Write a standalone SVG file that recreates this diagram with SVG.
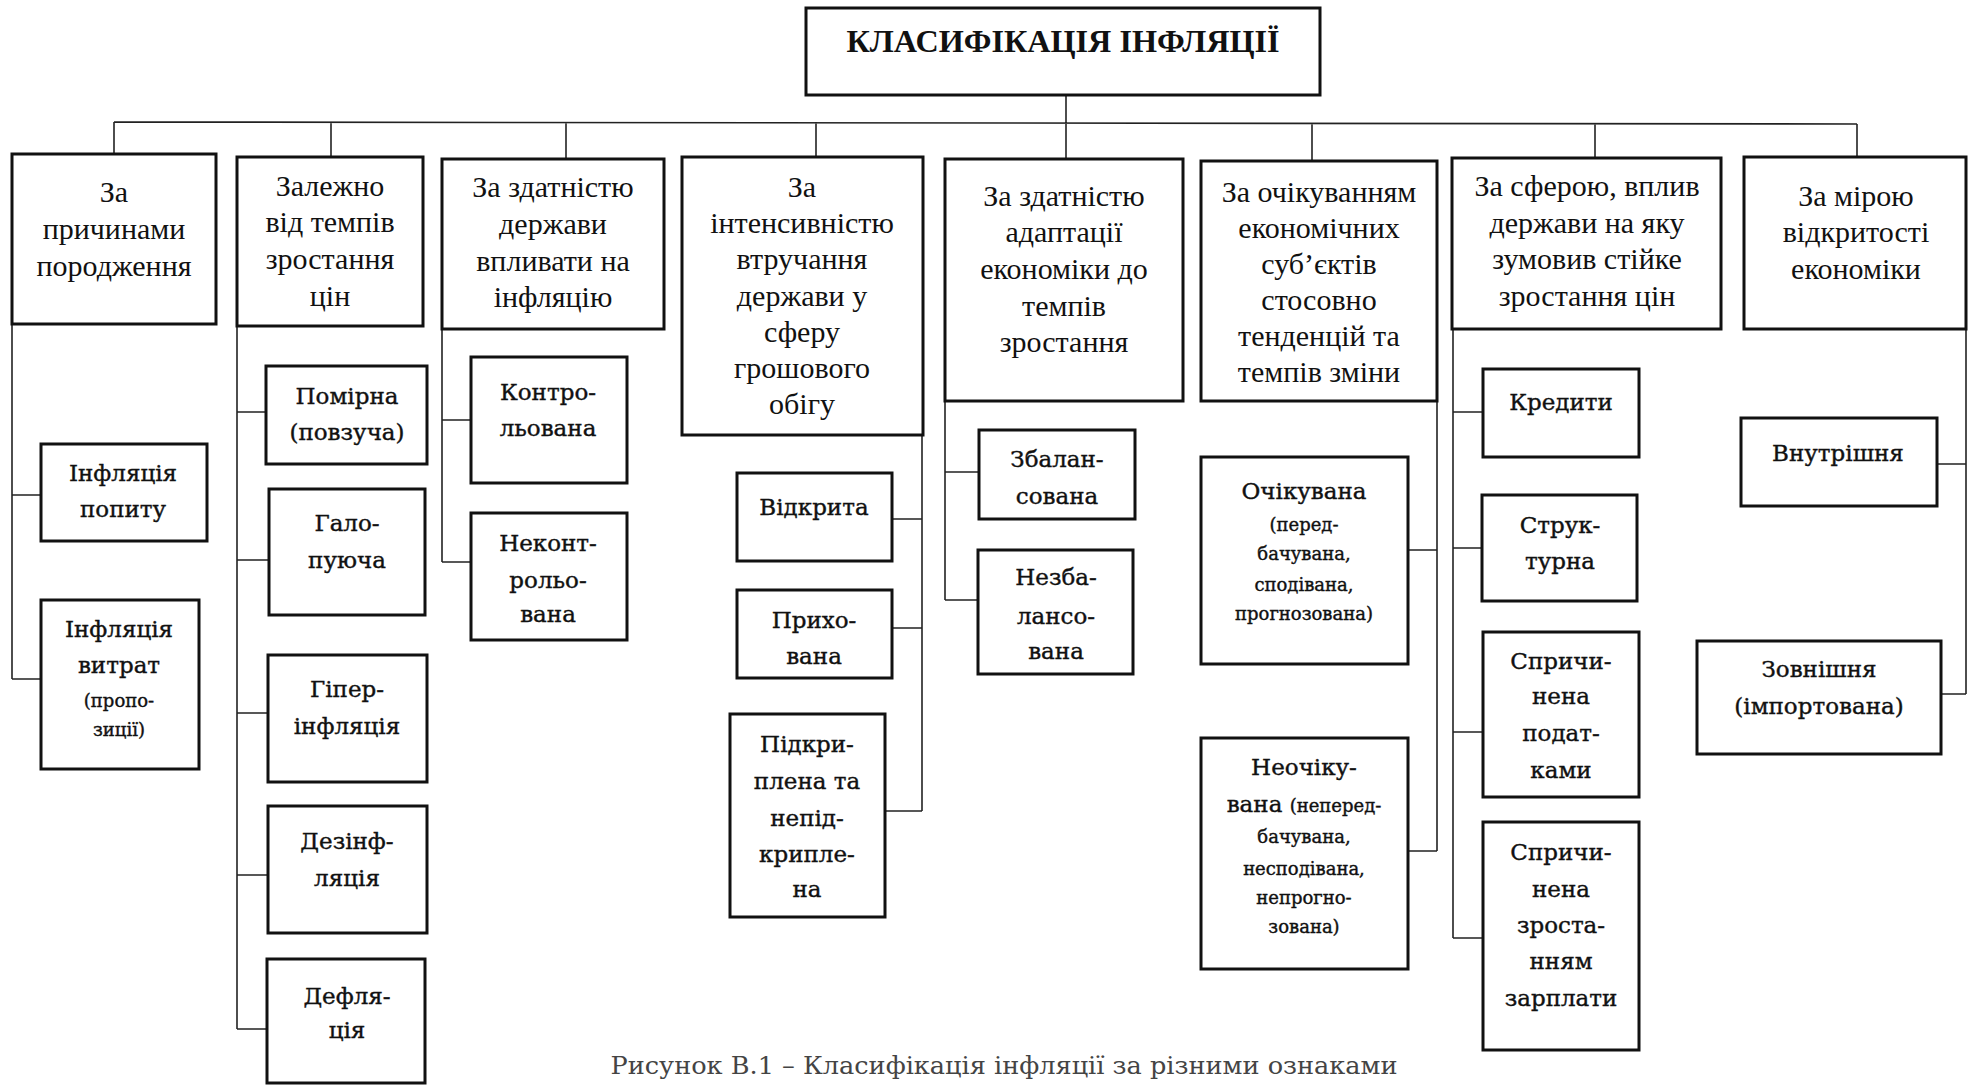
<svg xmlns="http://www.w3.org/2000/svg" width="1971" height="1085" viewBox="0 0 1971 1085">
<style>
.b{fill:#fff;stroke:#111;stroke-width:3}
.c{fill:none;stroke:#222;stroke-width:1.6}
.h{font-family:"Liberation Serif","Times New Roman",serif;font-size:30px;fill:#111;text-anchor:middle}
.t{font-family:"DejaVu Serif","Liberation Serif",serif;font-size:23px;fill:#111;stroke:#111;stroke-width:0.4;text-anchor:middle}
.s{font-size:18px}
.cap{font-family:"DejaVu Serif","Liberation Serif",serif;font-size:25px;fill:#444;text-anchor:middle}
</style>
<rect width="1971" height="1085" fill="#fff"/>
<g id="connectors">
<path class="c" d="M1066,95V122M114,122L1857,124M114,122V154M331,122V157M566,122V159M816,122V157M1066,122V159M1312,123V161M1595,124V158M1857,124V157"/>
<path class="c" d="M12,324V679M12,495H41M12,679H41"/>
<path class="c" d="M237,326V1029M237,412H266M237,560H269M237,713H268M237,875H268M237,1029H267"/>
<path class="c" d="M442,329V562M442,420H471M442,562H471"/>
<path class="c" d="M922,435V811M892,519H922M892,628H922M885,811H922"/>
<path class="c" d="M945,401V600M945,472H979M945,600H978"/>
<path class="c" d="M1437,401V851M1408,550H1437M1408,851H1437"/>
<path class="c" d="M1453,329V938M1453,412H1483M1453,548H1482M1453,732H1483M1453,938H1483"/>
<path class="c" d="M1966,329V694M1937,464H1966M1941,694H1966"/>
</g>
<g id="title"><rect class="b" x="806" y="8" width="514" height="87"/><text x="1063" y="52" font-family="Liberation Serif,serif" font-weight="bold" font-size="32" text-anchor="middle" fill="#111" textLength="433" lengthAdjust="spacingAndGlyphs">КЛАСИФІКАЦІЯ ІНФЛЯЦІЇ</text></g>
<g id="h1"><rect class="b" x="12" y="154" width="204" height="170"/><text class="h"><tspan x="114" y="202">За</tspan><tspan x="114" y="239">причинами</tspan><tspan x="114" y="276">породження</tspan></text></g>
<g id="h2"><rect class="b" x="237" y="157" width="186" height="169"/><text class="h"><tspan x="330" y="196">Залежно</tspan><tspan x="330" y="232">від темпів</tspan><tspan x="330" y="269">зростання</tspan><tspan x="330" y="306">цін</tspan></text></g>
<g id="h3"><rect class="b" x="442" y="159" width="222" height="170"/><text class="h"><tspan x="553" y="197">За здатністю</tspan><tspan x="553" y="234">держави</tspan><tspan x="553" y="271">впливати на</tspan><tspan x="553" y="307">інфляцію</tspan></text></g>
<g id="h4"><rect class="b" x="682" y="157" width="241" height="278"/><text class="h"><tspan x="802" y="197">За</tspan><tspan x="802" y="233">інтенсивністю</tspan><tspan x="802" y="269">втручання</tspan><tspan x="802" y="306">держави у</tspan><tspan x="802" y="342">сферу</tspan><tspan x="802" y="378">грошового</tspan><tspan x="802" y="414">обігу</tspan></text></g>
<g id="h5"><rect class="b" x="945" y="159" width="238" height="242"/><text class="h"><tspan x="1064" y="206">За здатністю</tspan><tspan x="1064" y="242">адаптації</tspan><tspan x="1064" y="279">економіки до</tspan><tspan x="1064" y="316">темпів</tspan><tspan x="1064" y="352">зростання</tspan></text></g>
<g id="h6"><rect class="b" x="1201" y="161" width="236" height="240"/><text class="h"><tspan x="1319" y="202">За очікуванням</tspan><tspan x="1319" y="238">економічних</tspan><tspan x="1319" y="274">суб’єктів</tspan><tspan x="1319" y="310">стосовно</tspan><tspan x="1319" y="346">тенденцій та</tspan><tspan x="1319" y="382">темпів зміни</tspan></text></g>
<g id="h7"><rect class="b" x="1452" y="158" width="269" height="171"/><text class="h"><tspan x="1587" y="196">За сферою, вплив</tspan><tspan x="1587" y="233">держави на яку</tspan><tspan x="1587" y="269">зумовив стійке</tspan><tspan x="1587" y="306">зростання цін</tspan></text></g>
<g id="h8"><rect class="b" x="1744" y="157" width="222" height="172"/><text class="h"><tspan x="1856" y="206">За мірою</tspan><tspan x="1856" y="242">відкритості</tspan><tspan x="1856" y="279">економіки</tspan></text></g>
<g id="n1a"><rect class="b" x="41" y="444" width="166" height="97"/><text class="t"><tspan x="123" y="481">Інфляція</tspan><tspan x="123" y="517">попиту</tspan></text></g>
<g id="n1b"><rect class="b" x="41" y="600" width="158" height="169"/><text class="t"><tspan x="119" y="637">Інфляція</tspan><tspan x="119" y="673">витрат</tspan><tspan class="s" x="119" y="707">(пропо-</tspan><tspan class="s" x="119" y="736">зиції)</tspan></text></g>
<g id="n2a"><rect class="b" x="266" y="366" width="161" height="98"/><text class="t"><tspan x="347" y="404">Помірна</tspan><tspan x="347" y="440">(повзуча)</tspan></text></g>
<g id="n2b"><rect class="b" x="269" y="489" width="156" height="126"/><text class="t"><tspan x="347" y="531">Гало-</tspan><tspan x="347" y="568">пуюча</tspan></text></g>
<g id="n2c"><rect class="b" x="268" y="655" width="159" height="127"/><text class="t"><tspan x="347" y="697">Гіпер-</tspan><tspan x="347" y="734">інфляція</tspan></text></g>
<g id="n2d"><rect class="b" x="268" y="806" width="159" height="127"/><text class="t"><tspan x="347" y="849">Дезінф-</tspan><tspan x="347" y="886">ляція</tspan></text></g>
<g id="n2e"><rect class="b" x="267" y="959" width="158" height="124"/><text class="t"><tspan x="347" y="1004">Дефля-</tspan><tspan x="347" y="1038">ція</tspan></text></g>
<g id="n3a"><rect class="b" x="471" y="357" width="156" height="126"/><text class="t"><tspan x="548" y="400">Контро-</tspan><tspan x="548" y="436">льована</tspan></text></g>
<g id="n3b"><rect class="b" x="471" y="513" width="156" height="127"/><text class="t"><tspan x="548" y="551">Неконт-</tspan><tspan x="548" y="588">рольо-</tspan><tspan x="548" y="622">вана</tspan></text></g>
<g id="n4a"><rect class="b" x="737" y="473" width="155" height="88"/><text class="t" x="814" y="515">Відкрита</text></g>
<g id="n4b"><rect class="b" x="737" y="590" width="155" height="88"/><text class="t"><tspan x="814" y="628">Прихо-</tspan><tspan x="814" y="664">вана</tspan></text></g>
<g id="n4c"><rect class="b" x="730" y="714" width="155" height="203"/><text class="t"><tspan x="807" y="752">Підкри-</tspan><tspan x="807" y="789">плена та</tspan><tspan x="807" y="826">непід-</tspan><tspan x="807" y="862">крипле-</tspan><tspan x="807" y="897">на</tspan></text></g>
<g id="n5a"><rect class="b" x="979" y="430" width="156" height="89"/><text class="t"><tspan x="1057" y="467">Збалан-</tspan><tspan x="1057" y="504">сована</tspan></text></g>
<g id="n5b"><rect class="b" x="978" y="550" width="155" height="124"/><text class="t"><tspan x="1056" y="585">Незба-</tspan><tspan x="1056" y="624">лансо-</tspan><tspan x="1056" y="659">вана</tspan></text></g>
<g id="n6a"><rect class="b" x="1201" y="457" width="207" height="207"/><text class="t"><tspan x="1304" y="499">Очікувана</tspan><tspan class="s" x="1304" y="531">(перед-</tspan><tspan class="s" x="1304" y="560">бачувана,</tspan><tspan class="s" x="1304" y="591">сподівана,</tspan><tspan class="s" x="1304" y="620">прогнозована)</tspan></text></g>
<g id="n6b"><rect class="b" x="1201" y="738" width="207" height="231"/><text class="t"><tspan x="1304" y="775">Неочіку-</tspan><tspan x="1304" y="812">вана <tspan class="s">(неперед-</tspan></tspan><tspan class="s" x="1304" y="843">бачувана,</tspan><tspan class="s" x="1304" y="875">несподівана,</tspan><tspan class="s" x="1304" y="904">непрогно-</tspan><tspan class="s" x="1304" y="933">зована)</tspan></text></g>
<g id="n7a"><rect class="b" x="1483" y="369" width="156" height="88"/><text class="t" x="1561" y="410">Кредити</text></g>
<g id="n7b"><rect class="b" x="1482" y="495" width="155" height="106"/><text class="t"><tspan x="1560" y="533">Струк-</tspan><tspan x="1560" y="569">турна</tspan></text></g>
<g id="n7c"><rect class="b" x="1483" y="632" width="156" height="165"/><text class="t"><tspan x="1561" y="669">Спричи-</tspan><tspan x="1561" y="704">нена</tspan><tspan x="1561" y="741">подат-</tspan><tspan x="1561" y="778">ками</tspan></text></g>
<g id="n7d"><rect class="b" x="1483" y="822" width="156" height="228"/><text class="t"><tspan x="1561" y="860">Спричи-</tspan><tspan x="1561" y="897">нена</tspan><tspan x="1561" y="933">зроста-</tspan><tspan x="1561" y="969">нням</tspan><tspan x="1561" y="1006">зарплати</tspan></text></g>
<g id="n8a"><rect class="b" x="1741" y="418" width="196" height="88"/><text class="t" x="1838" y="461">Внутрішня</text></g>
<g id="n8b"><rect class="b" x="1697" y="641" width="244" height="113"/><text class="t"><tspan x="1819" y="677">Зовнішня</tspan><tspan x="1819" y="714">(імпортована)</tspan></text></g>
<text class="cap" x="1004" y="1074" textLength="787" lengthAdjust="spacingAndGlyphs">Рисунок В.1 – Класифікація інфляції за різними ознаками</text>
</svg>
